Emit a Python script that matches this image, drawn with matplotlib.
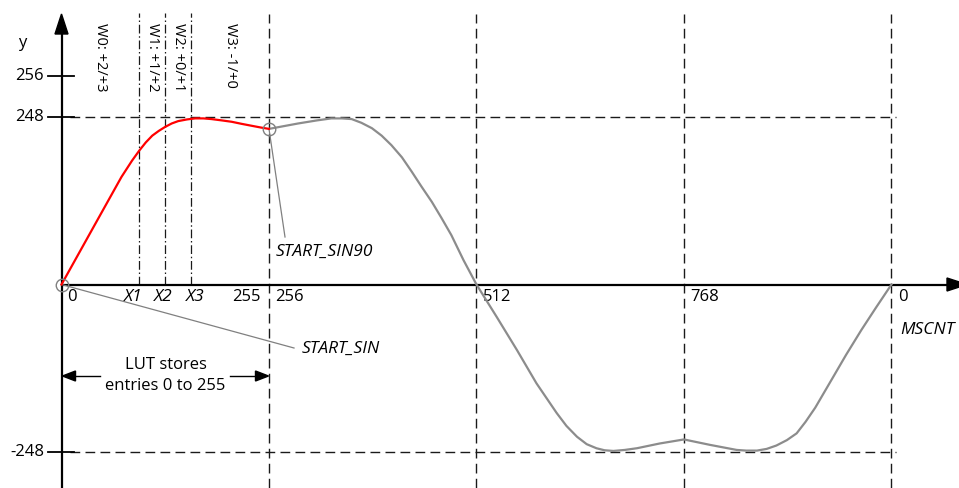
import matplotlib
matplotlib.use('Agg')
import matplotlib.pyplot as plt
from matplotlib.patches import Polygon

# ---------------- data ----------------
red_x = [0, 40, 74, 87, 96, 104, 112, 120, 128, 136, 144, 155, 165, 175, 185,
         198, 210, 222, 235, 246, 256]
red_y = [0, 86, 159, 183, 198, 210, 220, 227, 233, 238, 241.5, 244, 245.5, 245.5,
         244.5, 242.5, 240.5, 237.5, 234.5, 232, 230]

gray_x = [256, 292, 315, 333, 346, 358, 370, 383, 395, 407, 420, 432, 444, 457,
          469, 481, 496, 512,
          537, 562, 586, 611, 623, 636, 648, 660, 670, 681, 695, 710, 738, 768,
          800, 833, 845, 858, 870, 882, 895, 907, 918, 930, 950, 968, 987, 1005, 1024]
gray_y = [230, 238, 242.5, 245.5, 245.5, 244.5, 239, 231, 220, 206, 188, 167, 145,
          122, 98, 73, 36, 0,
          -48, -97, -146, -190, -209, -225, -236, -242, -245, -246, -244.5, -242,
          -235, -229,
          -237, -244.5, -245.5, -245.5, -243, -238, -230, -220, -203, -182, -141,
          -104, -67, -34, 0]

x_marks = [256, 512, 768, 1024]
x_mark_labels = ['256', '512', '768', '0']
x_steps = [96, 128, 160]
x_step_labels = ['X1', 'X2', 'X3']
w_bounds = [0, 96, 128, 160, 256]
w_labels = ['W0: +2/+3', 'W1: +1/+2', 'W2: +0/+1', 'W3: -1/+0']
y_levels = [248, -248]
y_tick_values = [256, 248, -248]
y_tick_labels = ['256', '248', '-248']
start_sin = (0, 0)
start_sin90 = (256, 230)

# ---------------- layout helpers (pixel -> data) ----------------
W, H = 959, 488
X0, SX = 61.5, 0.8105
Y0, SY = 284.5, 0.6766


def X(px):
    return (px - X0) / SX


def Y(py):
    return (Y0 - py) / SY


def ypos(v):
    # schematic: 256 is drawn well above 248
    return Y(76) if v == 256 else v


FONT = ['Open Sans', 'DejaVu Sans']
plt.rcParams['font.family'] = FONT
FS = 12
FSI = 12.5
FSW = 10.5

fig = plt.figure(figsize=(W / 100, H / 100), dpi=100)
ax = fig.add_axes([0, 0, 1, 1])
ax.set_xlim(X(0), X(W))
ax.set_ylim(Y(H), Y(0))
ax.axis('off')

dash = (0, (7, 3.8))
dashdot = (0, (7, 2.2, 1.2, 2.2))
lcol = '#1a1a1a'

# horizontal dashed reference levels
for v in y_levels:
    ax.plot([X(70), X(896)], [v, v], color=lcol, lw=1.0, linestyle=dash, zorder=1)

# vertical dashed lines
for xm in x_marks:
    ax.plot([xm, xm], [Y(H), Y(14)], color=lcol, lw=1.0, linestyle=dash, zorder=1)

# dash-dot step lines
for xs in x_steps:
    ax.plot([xs, xs], [0, Y(13)], color=lcol, lw=0.9, linestyle=dashdot, zorder=1)

# y ticks
for v in y_tick_values:
    ax.plot([X(48), X(74)], [ypos(v), ypos(v)], color='black', lw=1.3, zorder=3)
for v, lab in zip(y_tick_values, y_tick_labels):
    ax.text(X(44), ypos(v), lab, ha='right', va='center', fontsize=FS)

# axes lines
ax.plot([0, 0], [Y(H), Y(30)], color='black', lw=1.6, zorder=3)
ax.plot([0, X(950)], [0, 0], color='black', lw=1.6, zorder=3)


def head(tip, direction, length, width):
    tx, ty = tip  # pixels
    if direction == 'up':
        pts = [(tx, ty), (tx - width / 2, ty + length), (tx + width / 2, ty + length)]
    elif direction == 'right':
        pts = [(tx, ty), (tx - length, ty - width / 2), (tx - length, ty + width / 2)]
    else:  # left
        pts = [(tx, ty), (tx + length, ty - width / 2), (tx + length, ty + width / 2)]
    return Polygon([(X(a), Y(b)) for a, b in pts], closed=True, color='black', zorder=4)


ax.add_patch(head((X0, 14), 'up', 20, 13))
ax.add_patch(head((967, Y0), 'right', 20, 13))

# curves
ax.plot(gray_x, gray_y, color='#8c8c8c', lw=1.6, zorder=5, solid_joinstyle='round')
ax.plot(red_x, red_y, color='#ff0000', lw=1.6, zorder=6, solid_joinstyle='round')

# start markers and leaders
ax.plot([start_sin[0], X(294)], [start_sin[1], Y(348)], color='#808080', lw=0.9, zorder=5)
ax.plot([start_sin90[0], X(285)], [start_sin90[1], Y(237)], color='#808080', lw=0.9, zorder=5)
for p in (start_sin, start_sin90):
    ax.plot([p[0]], [p[1]], marker='o', ms=9, mfc='none', mec='#808080', mew=1.0, zorder=7)
ax.text(X(302), Y(349), 'START_SIN', style='italic', ha='left', va='center', fontsize=FSI)
ax.text(X(276), Y(252), 'START_SIN90', style='italic', ha='left', va='center', fontsize=FSI)

# x labels
ax.text(X(67), Y(297), '0', ha='left', va='center', fontsize=FS)
for xm, lab in zip(x_marks, x_mark_labels):
    ax.text(xm + 8, Y(297), lab, ha='left', va='center', fontsize=FS)
ax.text(X(261), Y(297), '255', ha='right', va='center', fontsize=FS)
for xs, lab, dx in zip(x_steps, x_step_labels, [-7, -2, 5]):
    ax.text(xs + dx, Y(297), lab, style='italic', ha='center', va='center', fontsize=FSI)
ax.text(X(900), Y(330), 'MSCNT', style='italic', ha='left', va='center', fontsize=FSI)

# axis name
ax.text(X(22), Y(43), 'y', ha='center', va='center', fontsize=FS)

# W labels (rotated)
for i, lab in enumerate(w_labels):
    xc = (w_bounds[i] + w_bounds[i + 1]) / 2
    ax.text(xc, Y(23), lab, rotation=-90, ha='center', va='top', fontsize=FSW)

# LUT span arrow and text
ax.plot([X(74), X(100)], [Y(376), Y(376)], color='black', lw=1.0, zorder=3)
ax.plot([X(230), X(257)], [Y(376), Y(376)], color='black', lw=1.0, zorder=3)
ax.add_patch(head((X0 + 1, 376), 'left', 13, 10))
ax.add_patch(head((268.5, 376), 'right', 13, 10))
ax.text(X(165.5), Y(365), 'LUT stores', ha='center', va='center', fontsize=FS)
ax.text(X(165.5), Y(386), 'entries 0 to 255', ha='center', va='center', fontsize=FS)

fig.savefig('out.png', dpi=100)
